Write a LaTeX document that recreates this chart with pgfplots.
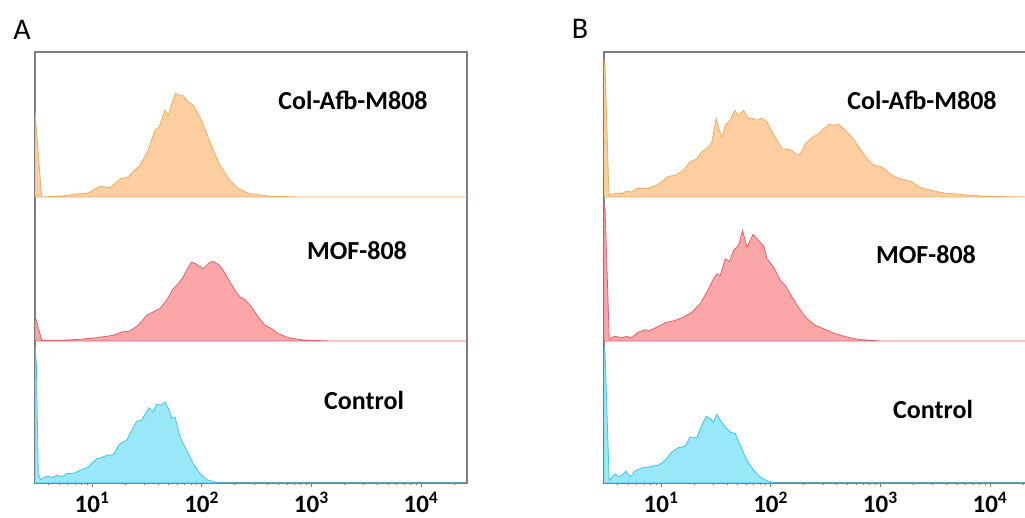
\documentclass[border=0pt]{standalone}
\usepackage{pgfplots}
\pgfplotsset{compat=1.18}
\usepackage{pgfplotstable}
\usepackage{fontspec}
\setmainfont{Carlito}

\definecolor{orfill}{RGB}{252,206,160}
\definecolor{orline}{RGB}{240,172,100}
\definecolor{rdfill}{RGB}{251,167,168}
\definecolor{rdline}{RGB}{226,96,106}
\definecolor{blfill}{RGB}{152,232,250}
\definecolor{blline}{RGB}{64,196,232}
\definecolor{axgray}{RGB}{125,125,125}

% x = log10(fluorescence intensity), h = histogram height (band = 143.7)
\pgfplotstableread{
x h
0.480 0
0.480 85
0.541 0
0.736 1
0.891 3.3
0.966 4
1.073 10.7
1.164 9.3
1.255 18
1.328 20
1.438 31.7
1.513 46.7
1.574 66.7
1.613 70
1.665 86.7
1.696 81.7
1.727 93
1.763 104
1.793 101.7
1.827 101.7
1.878 95
1.923 91.7
1.985 80
2.046 63.3
2.106 46.7
2.167 31.7
2.258 16.7
2.334 8.3
2.440 3.3
2.623 0.8
2.896 0
4.420 0
}\tabAtop

\pgfplotstableread{
x h
0.480 0
0.480 25.7
0.541 0.7
0.738 0.7
0.891 1.7
1.043 3.3
1.194 5.7
1.271 9
1.346 10
1.422 15.7
1.499 25.7
1.574 30
1.620 32.4
1.681 40.7
1.741 52.4
1.787 57.4
1.832 64
1.863 70.7
1.909 79
1.954 76.7
2.015 72.4
2.060 77.4
2.100 79.7
2.151 76.7
2.197 70.7
2.258 59
2.304 50.7
2.349 44
2.395 41.4
2.456 34
2.516 24
2.577 15.7
2.638 12.4
2.698 7.4
2.789 3.4
2.926 1
3.170 0
4.420 0
}\tabAmid

\pgfplotstableread{
x h
0.480 0
0.480 137
0.492 120
0.510 9.4
0.532 3.4
0.572 6
0.602 6.7
0.642 5.4
0.678 7.7
0.724 6
0.769 9.4
0.845 10
0.906 13.4
0.966 16
1.043 24.4
1.088 25.4
1.134 27.7
1.194 28.4
1.255 39.4
1.316 42.7
1.362 52.7
1.407 61.7
1.453 62.7
1.483 68.7
1.520 75.4
1.559 71
1.590 78.7
1.629 77.7
1.665 81
1.705 72.7
1.727 64.4
1.757 66
1.802 46
1.863 32.7
1.923 19.4
1.985 9.4
2.046 3.4
2.137 0.4
2.250 0
4.420 0
}\tabAbot

\pgfplotstableread{
x h
0.478 0
0.478 138
0.490 130
0.525 2
0.595 4
0.640 3.4
0.686 6
0.732 5
0.778 8.4
0.869 8.4
0.961 11.7
1.021 16.7
1.067 20.7
1.128 21.7
1.204 26.7
1.265 35
1.327 38.4
1.372 45
1.433 50
1.464 55
1.503 78.4
1.533 66.7
1.555 59.4
1.586 71.7
1.631 76.7
1.671 86.7
1.707 81.7
1.753 86.7
1.799 78.4
1.844 78.4
1.876 76.7
1.921 79
1.967 75
2.013 65
2.059 56.7
2.104 48.4
2.150 47.7
2.196 46.7
2.242 41.7
2.272 43.4
2.317 53.4
2.379 59.4
2.439 63.4
2.485 68.4
2.531 72.7
2.576 71.7
2.622 72.7
2.683 66.7
2.745 59.4
2.805 50
2.866 40
2.942 31.7
3.019 30
3.095 22.7
3.171 18.4
3.248 16.7
3.294 15
3.354 10
3.461 6.7
3.583 4
3.736 2.4
3.919 1
4.102 0.4
4.300 0
4.420 0
}\tabBtop

\pgfplotstableread{
x h
0.478 0
0.478 139
0.490 130
0.528 2.2
0.579 4.8
0.640 3.2
0.686 4.5
0.732 3.2
0.792 8.8
0.854 11.2
0.899 10.5
0.975 14.5
1.052 18.8
1.128 20.5
1.204 23.8
1.281 28.8
1.357 37.2
1.418 48.8
1.479 62.2
1.510 67.2
1.540 65.5
1.586 82.2
1.625 79.5
1.661 90.5
1.707 95.5
1.744 110.5
1.784 93.8
1.839 106.5
1.890 100.5
1.936 95.5
1.967 82.2
2.027 73.8
2.089 60.5
2.134 55.5
2.196 43.8
2.272 30.5
2.333 22.2
2.409 15.5
2.485 12.2
2.576 7.8
2.699 3.8
2.805 1.5
3.004 0
4.420 0
}\tabBmid

\pgfplotstableread{
x h
0.478 0
0.478 138
0.490 130
0.527 2.7
0.579 8.7
0.625 6
0.680 11.7
0.723 6
0.762 12
0.823 15
0.884 16
0.930 17
0.975 17.7
1.006 20
1.052 24.4
1.098 31
1.158 35.4
1.220 36.7
1.265 46
1.327 45.4
1.372 57.7
1.412 66.7
1.448 64.4
1.479 61
1.510 68.7
1.540 62.7
1.586 56
1.631 51
1.677 49.4
1.723 37.7
1.784 22.7
1.844 12.7
1.906 6
1.982 1.4
2.059 0
4.420 0
}\tabBbot

\tikzset{ticklab/.style={anchor=base, yshift=-30pt, font=\fontsize{25}{28}\selectfont\bfseries}}

\pgfplotsset{panel/.style={
  scale only axis, width=432pt, height=431pt,
  xmin=0.48, xmax=4.42, ymin=0, ymax=431,
  axis line style={axgray, line width=1.1pt},
  xtick={1,2,3,4},
  xticklabels={},
  minor xtick={0.602,0.699,0.778,0.845,0.903,0.954,
    1.301,1.477,1.602,1.699,1.778,1.845,1.903,1.954,
    2.301,2.477,2.602,2.699,2.778,2.845,2.903,2.954,
    3.301,3.477,3.602,3.699,3.778,3.845,3.903,3.954,4.301},
  xtick pos=left, ytick=\empty,
  tick align=outside, major tick length=4pt, minor tick length=2.5pt,
  every tick/.style={axgray, line width=0.8pt},
  clip mode=individual,
}}

\newcommand{\decadelabels}{%
  \node[ticklab] at (axis cs:1,0) {10\textsuperscript{1}};
  \node[ticklab] at (axis cs:2,0) {10\textsuperscript{2}};
  \node[ticklab] at (axis cs:3,0) {10\textsuperscript{3}};
  \node[ticklab] at (axis cs:4,0) {10\textsuperscript{4}};
}

\begin{document}
\begin{tikzpicture}[x=1pt,y=1pt]
\useasboundingbox (0pt,0pt) rectangle (1025pt,518pt);
\clip (0pt,0pt) rectangle (1025pt,518pt);

\begin{axis}[panel, at={(35pt,35pt)}, anchor=south west]
\addplot[draw=orline, fill=orfill, line width=0.8pt] table[x=x, y expr=\thisrow{h}+286] {\tabAtop} -- cycle;
\addplot[draw=rdline, fill=rdfill, line width=0.8pt] table[x=x, y expr=\thisrow{h}+142] {\tabAmid} -- cycle;
\addplot[draw=blline, fill=blfill, line width=0.8pt] table[x=x, y expr=\thisrow{h}] {\tabAbot} -- cycle;
\decadelabels
\end{axis}

\begin{axis}[panel, at={(604pt,35pt)}, anchor=south west]
\addplot[draw=orline, fill=orfill, line width=0.8pt] table[x=x, y expr=\thisrow{h}+286] {\tabBtop} -- cycle;
\addplot[draw=rdline, fill=rdfill, line width=0.8pt] table[x=x, y expr=\thisrow{h}+142] {\tabBmid} -- cycle;
\addplot[draw=blline, fill=blfill, line width=0.8pt] table[x=x, y expr=\thisrow{h}] {\tabBbot} -- cycle;
\decadelabels
\end{axis}

\node[font=\fontsize{30}{34}\selectfont] at (22pt,488pt) {A};
\node[font=\fontsize{30}{34}\selectfont] at (580pt,489pt) {B};

\begin{scope}[every node/.style={font=\fontsize{26}{30}\selectfont\bfseries}]
\node at (353pt,418pt) {Col-Afb-M808};
\node at (357pt,267pt) {MOF-808};
\node at (364pt,118pt) {Control};
\node at (922pt,418pt) {Col-Afb-M808};
\node at (926pt,263pt) {MOF-808};
\node at (933pt,109pt) {Control};
\end{scope}
\end{tikzpicture}
\end{document}
